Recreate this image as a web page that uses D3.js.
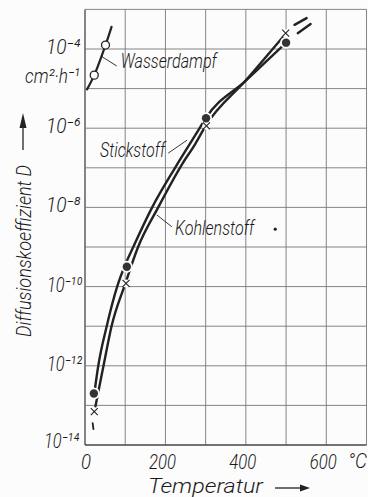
<!DOCTYPE html>
<html><head><meta charset="utf-8">
<script src="https://cdn.jsdelivr.net/npm/d3@7"></script>
<style>
html,body{margin:0;padding:0;background:#fcfcfc;}
svg{display:block;}
text{font-family:Roboto,"DejaVu Sans",sans-serif;font-style:italic;font-weight:300;fill:#1a1a1a;}
</style></head><body>
<svg id="c" width="368" height="497"></svg>
<script>
// ---- data ----
const xTickLabels = [0, 200, 400, 600];
const gridTemps = [0, 100, 200, 300, 400, 500, 600, 700];
const yLabelExps = [-4, -6, -8, -10, -12, -14];
const gridExps = [-14, -13, -12, -11, -10, -9, -8, -7, -6, -5, -4, -3];

// Wasserdampf (water vapour)
const waterT = [5, 23, 51, 66];
const waterL = [-5.02, -4.66, -3.90, -3.44];
const waterPtT = [23, 51];
const waterPtL = [-4.66, -3.90];

// Stickstoff (nitrogen) curve, log10 D
const stickT = [25, 33, 54, 80, 100, 120, 167, 224, 285, 300, 400, 500];
const stickL = [-12.56, -12.0, -11.0, -10.0, -9.45, -9.0, -8.0, -7.0, -6.0, -5.75, -4.80, -3.84];
const stickExtT = [529, 561];
const stickExtL = [-3.60, -3.37];
const stickPtT = [22, 104, 301, 500];
const stickPtL = [-12.7, -9.5, -5.75, -3.84];

// Kohlenstoff (carbon) curve
const kohlT = [26, 46, 66, 100, 132, 182, 242, 274, 300, 400, 500];
const kohlL = [-13.02, -12.0, -11.0, -9.93, -9.0, -8.0, -6.9, -6.4, -5.94, -4.79, -3.60];
const kohlLowT = [19, 21];
const kohlLowL = [-13.45, -13.6];
const kohlExtT = [521, 551];
const kohlExtL = [-3.39, -3.22];
const kohlPtT = [23, 102, 302, 499];
const kohlPtL = [-13.16, -9.92, -5.94, -3.60];

const strayT = [473];
const strayL = [-8.55];

// ---- chart ----
const svg = d3.select('#c');
const bg = '#fcfcfc';
const ink = '#222';
const x = d3.scaleLinear().domain([0, 700]).range([85, 366.5]);
const y = d3.scaleLog().domain([1e-14, 1e-3]).range([445, 9.4]);
const Y = l => y(Math.pow(10, l));
const SUP = {'-': '\u207B', '0': '\u2070', '1': '\u00B9', '2': '\u00B2', '3': '\u00B3',
  '4': '\u2074', '5': '\u2075', '6': '\u2076', '7': '\u2077', '8': '\u2078', '9': '\u2079'};
const sup = s => String(s).split('').map(c => SUP[c]).join('');

function label(parent, px, py, anchor, size, str, width, rot) {
  const g = parent.append('g')
    .attr('transform', `translate(${px},${py})` + (rot ? ` rotate(${rot})` : ''));
  const t = g.append('text').attr('text-anchor', anchor).style('font-size', size + 'px');
  if (width) t.attr('textLength', width).attr('lengthAdjust', 'spacingAndGlyphs');
  t.text(str);
  return t;
}

// grid
const grid = svg.append('g');
grid.selectAll('line.v').data(gridTemps).join('line')
  .attr('x1', d => x(d)).attr('x2', d => x(d))
  .attr('y1', y(1e-3)).attr('y2', y(1e-14))
  .attr('stroke', d => d === 0 ? '#444' : '#777').attr('stroke-width', d => d === 0 ? 1.3 : 0.9);
grid.selectAll('line.h').data(gridExps).join('line')
  .attr('y1', d => Y(d)).attr('y2', d => Y(d))
  .attr('x1', x(0)).attr('x2', x(700))
  .attr('stroke', d => d === -14 ? '#444' : '#777').attr('stroke-width', d => d === -14 ? 1.3 : 0.9);

// y tick labels (single text with superscript characters)
yLabelExps.forEach(e => {
  const endX = e === -14 ? 79 : (e <= -10 ? 82 : 80);
  const dy = e === -14 ? 3 : 5;
  label(svg, endX, Y(e) + dy, 'end', 21, '10' + sup(e), e <= -10 ? 35 : 34);
});
// unit cm²·h⁻¹
label(svg, 80, 83, 'end', 20, 'cm' + sup(2) + '·h' + sup(-1), 55);
// x tick labels
xTickLabels.forEach(v => {
  label(svg, x(v) + (v === 0 ? 1 : -3), 469, 'middle', 20, String(v), v === 0 ? 10 : 27);
});
label(svg, 348, 468, 'start', 20, '°C', 19);
// x title + arrow
label(svg, 148, 493, 'start', 21, 'Temperatur', 115);
svg.append('line').attr('x1', 275).attr('x2', 301).attr('y1', 488).attr('y2', 488)
  .attr('stroke', ink).attr('stroke-width', 1.3);
svg.append('path').attr('d', 'M300,484.5 L310,488 L300,491.5 Z').attr('fill', ink);
// y title + arrow
label(svg, 31, 337, 'start', 21, 'Diffusionskoeffizient D', 172, -90);
svg.append('line').attr('x1', 23).attr('x2', 23).attr('y1', 150).attr('y2', 125)
  .attr('stroke', ink).attr('stroke-width', 1.3);
svg.append('path').attr('d', 'M19.5,128 L23,113 L26.5,128 Z').attr('fill', ink);

// curves
const line = d3.line().x(d => x(d[0])).y(d => Y(d[1])).curve(d3.curveMonotoneX);
const zip = (a, b) => a.map((v, i) => [v, b[i]]);
const curves = svg.append('g').attr('fill', 'none').attr('stroke', ink).attr('stroke-linecap', 'round');
curves.append('path').attr('d', line(zip(stickT, stickL))).attr('stroke-width', 2.4);
curves.append('path').attr('d', line(zip(kohlT, kohlL))).attr('stroke-width', 2.4);
curves.append('path').attr('d', line(zip(kohlLowT, kohlLowL))).attr('stroke-width', 1.8);
curves.append('path').attr('d', line(zip(stickExtT, stickExtL))).attr('stroke-width', 2.4);
curves.append('path').attr('d', line(zip(kohlExtT, kohlExtL))).attr('stroke-width', 2.4);
curves.append('path').attr('d', d3.line().x(d => x(d[0])).y(d => Y(d[1])).curve(d3.curveCatmullRom)(zip(waterT, waterL))).attr('stroke-width', 2.2);

// markers
const dots = zip(stickPtT, stickPtL);
const crosses = zip(kohlPtT, kohlPtL);
svg.append('g').selectAll('circle').data(dots).join('circle')
  .attr('cx', d => x(d[0])).attr('cy', d => Y(d[1])).attr('r', 6).attr('fill', bg);
svg.append('g').selectAll('circle').data(crosses).join('circle')
  .attr('cx', d => x(d[0])).attr('cy', d => Y(d[1])).attr('r', 4).attr('fill', bg);
svg.append('g').selectAll('circle').data(dots).join('circle')
  .attr('cx', d => x(d[0])).attr('cy', d => Y(d[1])).attr('r', 4.2).attr('fill', '#333');
svg.append('g').selectAll('path').data(crosses).join('path')
  .attr('d', d => { const cx = x(d[0]), cy = Y(d[1]), s = 3.5;
    return `M${cx - s},${cy - s}L${cx + s},${cy + s}M${cx - s},${cy + s}L${cx + s},${cy - s}`; })
  .attr('stroke', ink).attr('stroke-width', 1.1);
svg.append('g').selectAll('circle').data(zip(waterPtT, waterPtL)).join('circle')
  .attr('cx', d => x(d[0])).attr('cy', d => Y(d[1])).attr('r', 4)
  .attr('fill', bg).attr('stroke', ink).attr('stroke-width', 1.3);
svg.append('g').selectAll('circle').data(zip(strayT, strayL)).join('circle')
  .attr('cx', d => x(d[0])).attr('cy', d => Y(d[1])).attr('r', 1.6).attr('fill', ink);

// annotations (leaders in data coordinates)
const ann = [
  {text: 'Wasserdampf', from: [41.6, -4.19], to: [79, -4.43], at: [89, -4.48], anchor: 'start', w: 96},
  {text: 'Stickstoff', from: [254, -6.30], to: [207, -6.63], at: [199, -6.72], anchor: 'end', w: 65},
  {text: 'Kohlenstoff', from: [178.6, -8.19], to: [216, -8.49], at: [224, -8.70], anchor: 'start', w: 79}
];
ann.forEach(a => {
  svg.append('line').attr('x1', x(a.from[0])).attr('y1', Y(a.from[1]))
    .attr('x2', x(a.to[0])).attr('y2', Y(a.to[1])).attr('stroke', ink).attr('stroke-width', 0.9);
  label(svg, x(a.at[0]), Y(a.at[1]), a.anchor, 20, a.text, a.w);
});
</script>
</body></html>
